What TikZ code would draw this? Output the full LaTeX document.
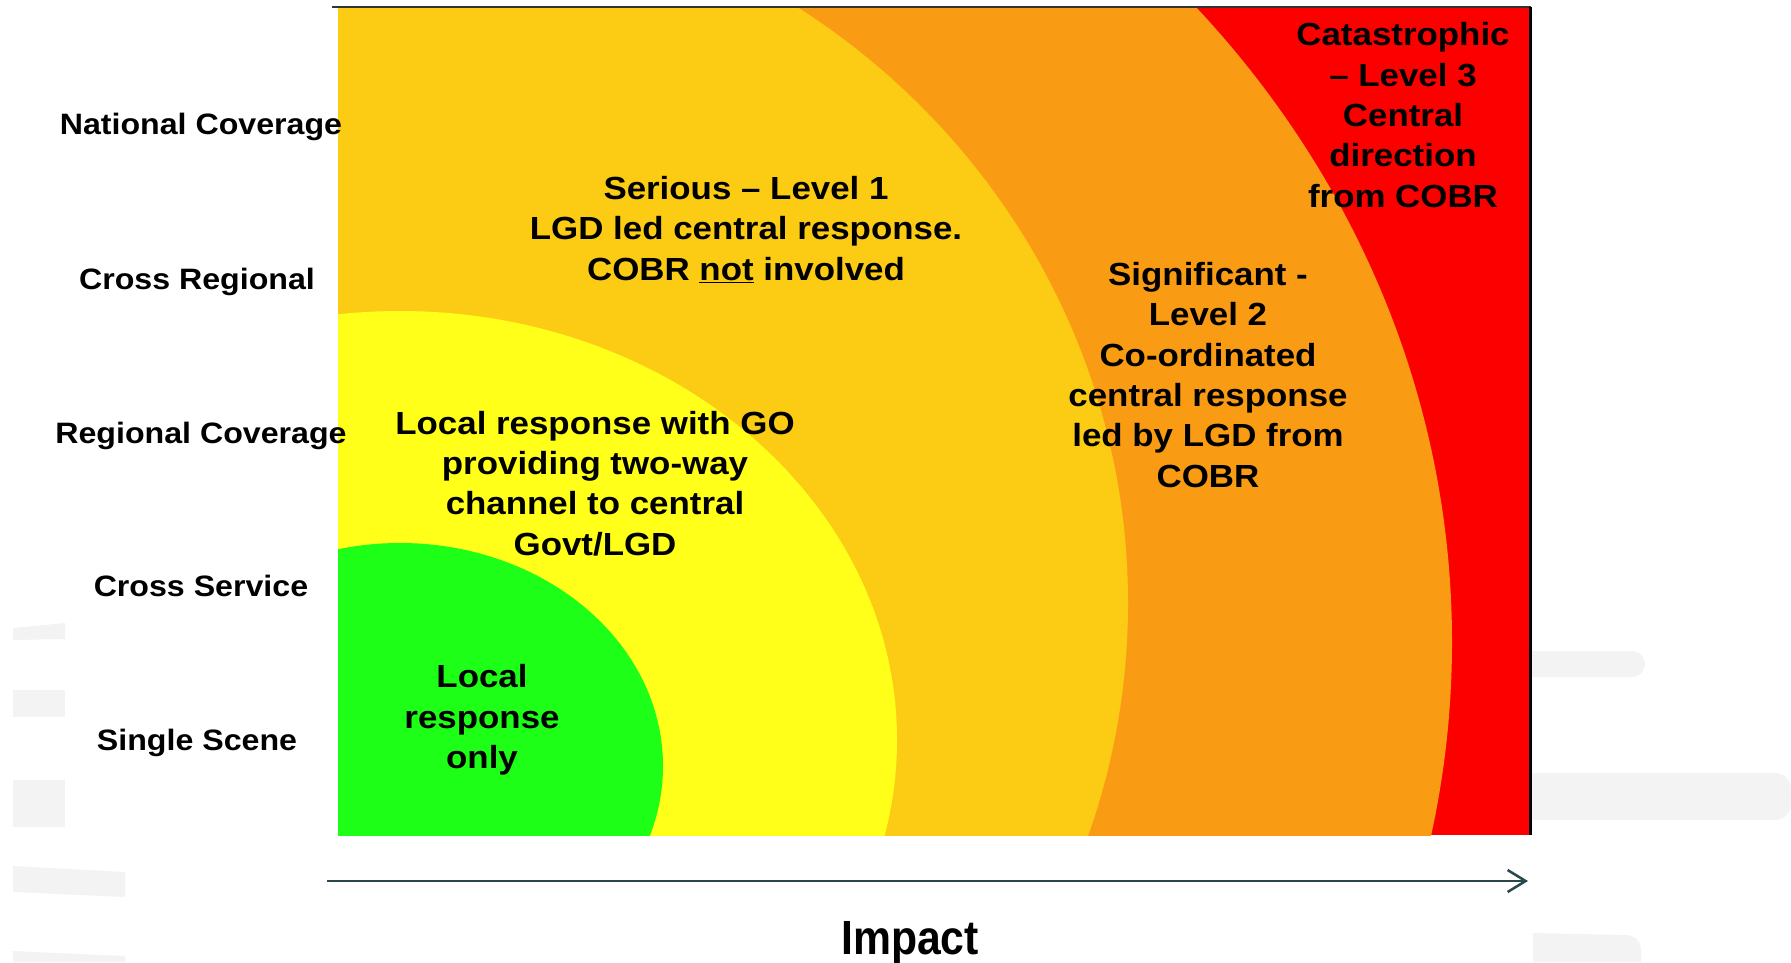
\documentclass[tikz,border=0pt]{standalone}
\usepackage{fontspec}
\usepackage{graphicx}
\setmainfont{Liberation Sans}[FakeStretch=1.09]
\newfontfamily\impactfont{Liberation Sans}
\usetikzlibrary{arrows.meta}
\definecolor{cgreen}{RGB}{30,255,24}
\definecolor{cyellow}{RGB}{255,255,26}
\definecolor{cgold}{RGB}{252,204,20}
\definecolor{corange}{RGB}{250,155,20}
\definecolor{cred}{RGB}{252,0,0}
\definecolor{carrow}{RGB}{40,72,78}
\definecolor{cghost}{RGB}{243,243,243}
\begin{document}
\begin{tikzpicture}[x=1pt,y=-1pt,
  txt/.style={font=\bfseries\fontsize{32}{40.3}\selectfont, align=center, inner sep=0pt},
  axislabel/.style={font=\bfseries\fontsize{29.5}{36}\selectfont, inner sep=0pt},
  ghost/.style={fill=cghost}]
\useasboundingbox (0,0) rectangle (1791,962);

% faint background strips
\fill[ghost] (13,628) -- (65,623) -- (65,639) -- (13,640) -- cycle;
\fill[ghost] (13,690) rectangle (65,717);
\fill[ghost] (13,780) rectangle (65,827);
\fill[ghost] (13,866) -- (125,872) -- (125,897) -- (13,892) -- cycle;
\fill[ghost] (13,951) -- (125,956) -- (125,962) -- (13,962) -- cycle;
\fill[ghost, rounded corners=13pt] (1515,651) rectangle (1645,677);
\fill[ghost, rounded corners=16pt] (1515,773) rectangle (1791,820);
\fill[ghost] (1533,933) -- (1626,935) to[out=0,in=90] (1641,950) -- (1641,962) -- (1533,962) -- cycle;

% chart
\begin{scope}
  \clip (338,7) rectangle (1531,835);
  \fill[cred] (338,7) rectangle (1531,835);
  \fill[corange] (400,642) ellipse [x radius=1052pt, y radius=971pt];
  \fill[cgold] (400,603) ellipse [x radius=728pt, y radius=711pt];
  \fill[cyellow] (400,740) ellipse [x radius=497pt, y radius=429pt];
  \fill[cgreen] (400,766) ellipse [x radius=263pt, y radius=223pt];
\end{scope}
\draw[line width=1.3pt, black!80] (332,7) -- (1531,7);
\draw[line width=3pt, black] (1530,7) -- (1530,835);

% texts in the zones
\node[txt] (lvl1) at (746,229.5) {Serious -- Level 1\\LGD led central response.\\COBR \underline{not} involved};
\node[txt] (go) at (595,483.5) {Local response with GO\\providing two-way\\channel to central\\Govt/LGD};
\node[txt] (local) at (482,720) {Local\\response\\only};
\node[txt] (lvl2) at (1208,375) {Significant -\\Level 2\\Co-ordinated\\central response\\led by LGD from\\COBR};
\node[txt] (lvl3) at (1403,115) {Catastrophic\\-- Level 3\\Central\\direction\\from COBR};

% axis labels
\node[axislabel] (nat) at (201,126.5) {National Coverage};
\node[axislabel] (creg) at (197,281.5) {Cross Regional};
\node[axislabel] (reg) at (201,435.5) {Regional Coverage};
\node[axislabel] (cser) at (201,586) {Cross Service};
\node[axislabel] (single) at (197,742.5) {Single Scene};

% impact arrow
\coordinate (a0) at (327,881);
\coordinate (a1) at (1528,881);
\draw[carrow, line width=2.5pt, -{Straight Barb[length=18pt,width=22pt]}] (a0) -- (a1);
\node[inner sep=0pt, font=\impactfont\bfseries\fontsize{48}{52}\selectfont] (imp) at (910,943) {\scalebox{0.89}[1]{Impact}};
\end{tikzpicture}
\end{document}
